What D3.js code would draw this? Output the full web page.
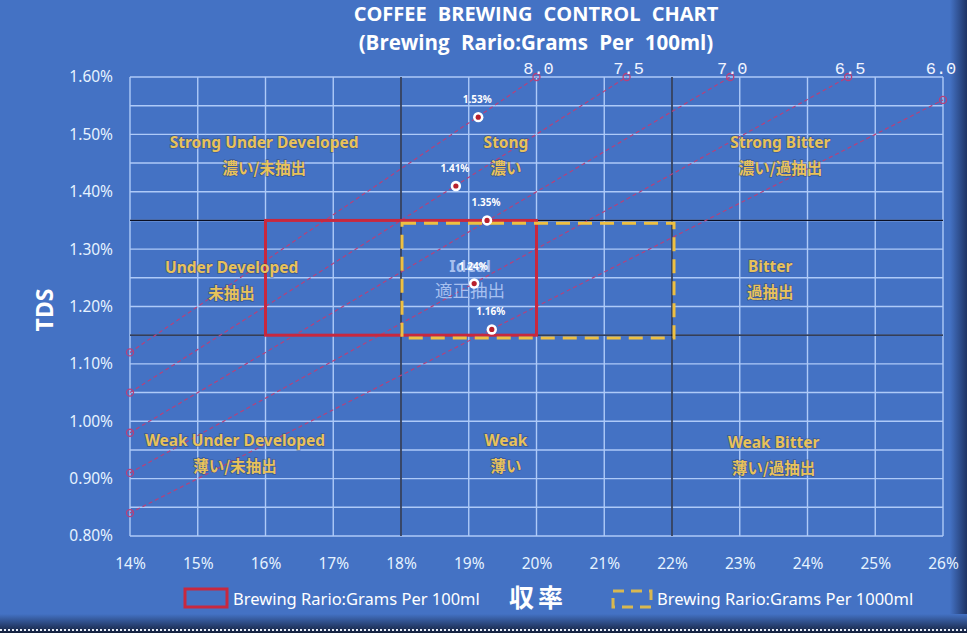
<!DOCTYPE html>
<html>
<head>
<meta charset="utf-8">
<script src="https://cdn.jsdelivr.net/npm/d3@7"></script>
<style>
  body { margin: 0; background: #4472c4; }
  svg { display: block; }
  text { font-family: "Noto Sans", "Noto Sans CJK JP", sans-serif; }
</style>
</head>
<body>
<div id="chart"></div>
<script>
// =================================================
// data
// =================================================
var xTicks = [14, 15, 16, 17, 18, 19, 20, 21, 22, 23, 24, 25, 26];
var yTicks = [0.80, 0.90, 1.00, 1.10, 1.20, 1.30, 1.40, 1.50, 1.60];
var yMinor = [0.85, 0.95, 1.05, 1.15, 1.25, 1.35, 1.45, 1.55];

// brew ratio lines: [extraction %, TDS %] at both ends
var ratioNames = ["8.0", "7.5", "7.0", "6.5", "6.0"];
var ratioStart = [[14, 1.12], [14, 1.05], [14, 0.98], [14, 0.91], [14, 0.84]];
var ratioEnd = [[20.0, 1.60], [21.33, 1.60], [22.86, 1.60], [24.6, 1.60], [26, 1.56]];

// measured brews
var brewEY = [19.14, 18.81, 19.27, 19.08, 19.34];
var brewTDS = [1.53, 1.41, 1.35, 1.24, 1.16];

// zone borders
var zoneX = [18, 22];
var zoneY = [1.15, 1.35];
var box100 = [16, 20, 1.15, 1.35];
var box1000 = [18, 22, 1.145, 1.345];

// zone labels [x %, tds %, english, japanese]
var zoneLabels = [
	[15.98, 1.49, "Strong Under Developed", "濃い/未抽出"],
	[19.55, 1.49, "Stong", "濃い"],
	[23.6, 1.49, "Strong Bitter", "濃い/過抽出"],
	[15.5, 1.272, "Under Developed", "未抽出"],
	[23.45, 1.274, "Bitter", "過抽出"],
	[15.55, 0.97, "Weak Under Developed", "薄い/未抽出"],
	[19.55, 0.97, "Weak", "薄い"],
	[23.5, 0.968, "Weak Bitter", "薄い/過抽出"]
];

// =================================================
// sizes
// =================================================
var W = 967, H = 633,
	M = { left: 130, top: 77, right: 24, bottom: 97 };

var svg = d3.select("#chart").append("svg")
	.attr("width", W)
	.attr("height", H);

// frame shadow on right and bottom
var defs = svg.append("defs");
var gb = defs.append("linearGradient").attr("id", "shB").attr("x1", 0).attr("y1", 0).attr("x2", 0).attr("y2", 1);
gb.append("stop").attr("offset", "0%").attr("stop-color", "#4472c4");
gb.append("stop").attr("offset", "100%").attr("stop-color", "#14203c");
var gr = defs.append("linearGradient").attr("id", "shR").attr("x1", 0).attr("y1", 0).attr("x2", 1).attr("y2", 0);
gr.append("stop").attr("offset", "0%").attr("stop-color", "#4472c4");
gr.append("stop").attr("offset", "100%").attr("stop-color", "#1e3466");

svg.append("rect").attr("width", W).attr("height", H).attr("fill", "#4472c4");
svg.append("rect").attr("x", 950).attr("y", 0).attr("width", 17).attr("height", 620).attr("fill", "url(#shR)");
svg.append("rect").attr("x", 0).attr("y", 614).attr("width", W).attr("height", 19).attr("fill", "url(#shB)");
svg.append("line").attr("x1", 0).attr("x2", W).attr("y1", 630).attr("y2", 630)
	.attr("stroke", "#e8eef8").attr("stroke-width", 2).attr("stroke-dasharray", "2,2");

var x = d3.scaleLinear().domain([14, 26]).range([M.left, W - M.right]);
var y = d3.scaleLinear().domain([0.80, 1.60]).range([H - M.bottom, M.top]);

var grid = svg.append("g");
var gridColor = "#aecaf8";

// minor + major gridlines
grid.selectAll("line.h").data(yTicks.concat(yMinor)).enter().append("line")
	.attr("x1", x(14)).attr("x2", x(26))
	.attr("y1", function(d) { return y(d); }).attr("y2", function(d) { return y(d); })
	.attr("stroke", gridColor).attr("stroke-width", 1.4);
grid.selectAll("line.v").data(xTicks).enter().append("line")
	.attr("y1", y(0.80)).attr("y2", y(1.60))
	.attr("x1", function(d) { return x(d); }).attr("x2", function(d) { return x(d); })
	.attr("stroke", gridColor).attr("stroke-width", 1.4);

// axes
var xAxis = svg.append("g")
	.attr("transform", "translate(0," + (H - M.bottom) + ")")
	.call(d3.axisBottom(x).tickValues(xTicks).tickSize(0).tickPadding(22)
		.tickFormat(function(d) { return d + "%"; }));
var yAxis = svg.append("g")
	.attr("transform", "translate(" + M.left + ",0)")
	.call(d3.axisLeft(y).tickValues(yTicks).tickSize(0).tickPadding(17)
		.tickFormat(function(d) { return d.toFixed(2) + "%"; }));
[xAxis, yAxis].forEach(function(a) {
	a.select(".domain").remove();
	a.selectAll("text").attr("fill", "#e6f2ff").style("font-size", "15.5px")
		.style("font-family", "'Noto Sans', sans-serif");
});

// zone borders in black
svg.selectAll("line.zx").data(zoneX).enter().append("line")
	.attr("x1", function(d) { return x(d); }).attr("x2", function(d) { return x(d); })
	.attr("y1", y(0.80)).attr("y2", y(1.60))
	.attr("stroke", "#0a0f24").attr("stroke-width", 1.3);
svg.selectAll("line.zy").data(zoneY).enter().append("line")
	.attr("y1", function(d) { return y(d); }).attr("y2", function(d) { return y(d); })
	.attr("x1", x(14)).attr("x2", x(26))
	.attr("stroke", "#0a0f24").attr("stroke-width", 1.3);

// brew ratio lines
var ratio = svg.append("g");
ratioNames.forEach(function(name, i) {
	var a = ratioStart[i], b = ratioEnd[i];
	ratio.append("line")
		.attr("x1", x(a[0])).attr("y1", y(a[1]))
		.attr("x2", x(b[0])).attr("y2", y(b[1]))
		.attr("stroke", "#b8407a").attr("stroke-width", 1.2)
		.attr("stroke-dasharray", "4,3");
	[a, b].forEach(function(p) {
		ratio.append("circle")
			.attr("cx", x(p[0])).attr("cy", y(p[1])).attr("r", 3.5)
			.attr("fill", "none").attr("stroke", "#b8407a").attr("stroke-width", 1.3);
	});
	ratio.append("text")
		.attr("x", Math.min(x(b[0]) + 2, W - 26)).attr("y", 74)
		.attr("text-anchor", "middle")
		.attr("fill", "#f0f4ff")
		.style("font-family", "'Liberation Mono', monospace")
		.style("font-size", "17px")
		.text(name);
});

// recommended boxes
svg.append("rect")
	.attr("x", x(box100[0])).attr("y", y(box100[3]))
	.attr("width", x(box100[1]) - x(box100[0]))
	.attr("height", y(box100[2]) - y(box100[3]))
	.attr("fill", "none").attr("stroke", "#c8283e").attr("stroke-width", 3);
svg.append("rect")
	.attr("x", x(box1000[0]) + 1).attr("y", y(box1000[3]))
	.attr("width", x(box1000[1]) - x(box1000[0]) + 1)
	.attr("height", y(box1000[2]) - y(box1000[3]))
	.attr("fill", "none").attr("stroke", "#eec042").attr("stroke-width", 3)
	.attr("stroke-dasharray", "14,8");

// zone labels
var zl = svg.append("g")
	.style("font-weight", "bold").style("font-size", "15.5px")
	.attr("fill", "#e8c25a")
	.attr("text-anchor", "middle")
	.style("paint-order", "stroke")
	.attr("stroke", "rgba(40,40,60,0.35)").attr("stroke-width", 1.5);
zoneLabels.forEach(function(d) {
	zl.append("text").attr("x", x(d[0])).attr("y", y(d[1]) + 8).text(d[2]);
	zl.append("text").attr("x", x(d[0])).attr("y", y(d[1]) + 34)
		.style("font-family", "'Noto Sans CJK JP', sans-serif").text(d[3]);
});

// ideal label
svg.append("text").attr("x", x(19.02)).attr("y", y(1.272) + 7)
	.attr("text-anchor", "middle").attr("fill", "#a7c0ef")
	.style("font-size", "16.5px").style("font-weight", "bold").text("Ideal");
svg.append("text").attr("x", x(19.02)).attr("y", y(1.272) + 32)
	.attr("text-anchor", "middle").attr("fill", "#a7c0ef")
	.style("font-size", "17.5px").style("font-family", "'Noto Sans CJK JP', sans-serif")
	.text("適正抽出");

// brew points
var pts = svg.append("g");
brewEY.forEach(function(ey, i) {
	var cx = x(ey), cy = y(brewTDS[i]);
	pts.append("circle").attr("cx", cx).attr("cy", cy).attr("r", 5.2).attr("fill", "#ffffff");
	pts.append("circle").attr("cx", cx).attr("cy", cy).attr("r", 2.6).attr("fill", "#b8202c");
	pts.append("text").attr("x", cx - 1).attr("y", cy - 14)
		.attr("text-anchor", "middle").attr("fill", "#ffffff")
		.style("font-size", "10px").style("font-weight", "bold")
		.text(brewTDS[i].toFixed(2) + "%");
});

// titles
var tf = "'Open Sans', 'Noto Sans', sans-serif";
svg.append("text").attr("x", 536).attr("y", 21).attr("text-anchor", "middle")
	.attr("fill", "#ffffff").style("font-family", tf).style("font-weight", "bold")
	.style("font-size", "20px").style("word-spacing", "6px")
	.text("COFFEE BREWING CONTROL CHART");
svg.append("text").attr("x", 536).attr("y", 50).attr("text-anchor", "middle")
	.attr("fill", "#ffffff").style("font-family", tf).style("font-weight", "bold")
	.style("font-size", "20.5px").style("word-spacing", "6px")
	.text("(Brewing Rario:Grams Per 100ml)");

svg.append("text")
	.attr("transform", "translate(53,310) rotate(-90)")
	.attr("text-anchor", "middle").attr("fill", "#ffffff")
	.style("font-weight", "bold").style("font-size", "23px")
	.text("TDS");

svg.append("text").attr("x", 538).attr("y", 607).attr("text-anchor", "middle")
	.attr("fill", "#ffffff").style("font-family", "'Noto Sans CJK JP', sans-serif")
	.style("font-weight", "bold").style("font-size", "25px").style("letter-spacing", "4px")
	.text("収率");

// legend
var lg = svg.append("g").style("font-family", "'Liberation Sans Narrow', 'Liberation Sans', sans-serif")
	.style("font-size", "16.5px").attr("fill", "#ffffff");
lg.append("rect").attr("x", 185).attr("y", 589).attr("width", 42).attr("height", 18)
	.attr("fill", "#4472c4").attr("stroke", "#c8283e").attr("stroke-width", 3);
lg.append("text").attr("x", 233).attr("y", 605).text("Brewing Rario:Grams Per 100ml");
lg.append("rect").attr("x", 613).attr("y", 591).attr("width", 38).attr("height", 16)
	.attr("fill", "none").attr("stroke", "#d8b850").attr("stroke-width", 3)
	.attr("stroke-dasharray", "11,7");
lg.append("text").attr("x", 657).attr("y", 605).text("Brewing Rario:Grams Per 1000ml");
</script>
</body>
</html>
